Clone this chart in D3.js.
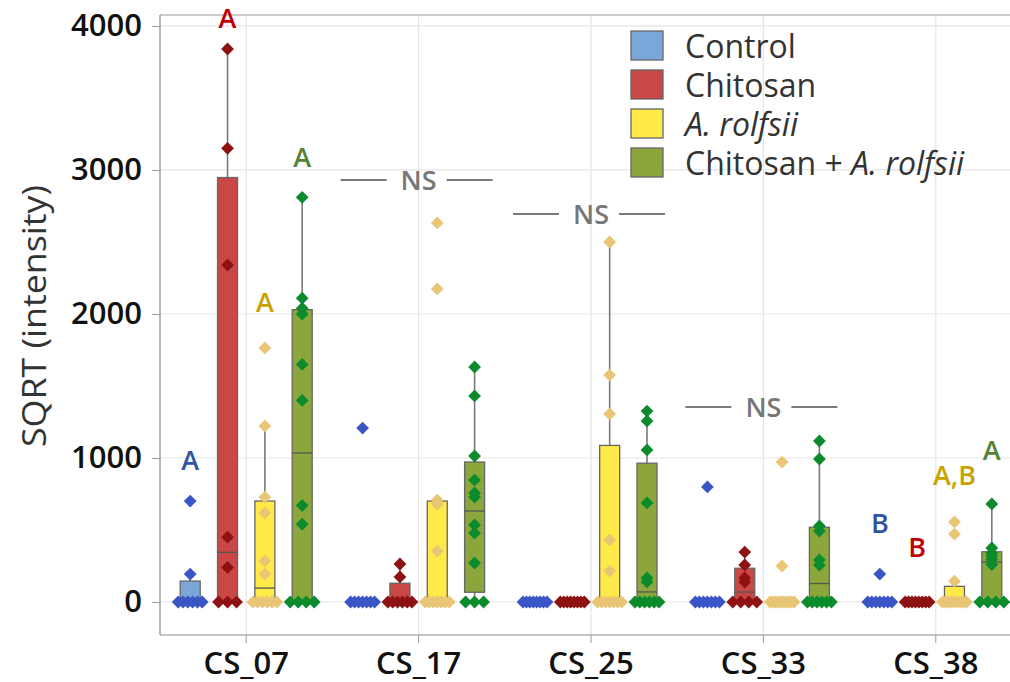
<!DOCTYPE html>
<html>
<head>
<meta charset="utf-8">
<script src="https://cdn.jsdelivr.net/npm/d3@7/dist/d3.min.js"></script>
<style>
  html, body { margin: 0; padding: 0; background: #fff; }
  svg { display: block; font-family: "Open Sans", "Noto Sans", sans-serif; }
</style>
</head>
<body>
<svg id="chart" width="1010" height="682"></svg>
<script>
// Compound intensity (square-root scale) per treatment, one row per compound
const categories = ["CS_07", "CS_17", "CS_25", "CS_33", "CS_38"];
const treatments = ["Control", "Chitosan", "A. rolfsii", "Chitosan + A. rolfsii"];

const controlValues = [
  [0, 0, 0, 0, 0, 0, 194, 701],
  [0, 0, 0, 0, 0, 0, 0, 1208],
  [0, 0, 0, 0, 0, 0, 0, 0],
  [0, 0, 0, 0, 0, 0, 0, 799],
  [0, 0, 0, 0, 0, 0, 0, 194]
];
const chitosanValues = [
  [0, 0, 0, 240, 450, 2340, 3150, 3840],
  [0, 0, 0, 0, 0, 0, 174, 264],
  [0, 0, 0, 0, 0, 0, 0, 0],
  [0, 0, 0, 0, 139, 167, 257, 347],
  [0, 0, 0, 0, 0, 0, 0, 0]
];
const rolfsiiValues = [
  [0, 0, 0, 0, 0, 0, 194, 285, 618, 729, 1222, 1764],
  [0, 0, 0, 0, 0, 0, 0, 354, 680, 708, 2174, 2632],
  [0, 0, 0, 0, 0, 0, 0, 215, 431, 1306, 1576, 2500],
  [0, 0, 0, 0, 0, 0, 0, 0, 0, 0, 250, 972],
  [0, 0, 0, 0, 0, 0, 0, 0, 0, 145, 472, 556]
];
const comboValues = [
  [0, 0, 0, 0, 540, 670, 1400, 1650, 2000, 2040, 2110, 2810],
  [0, 0, 0, 271, 479, 535, 729, 757, 847, 1014, 1431, 1632],
  [0, 0, 0, 0, 0, 0, 140, 167, 688, 1056, 1257, 1326],
  [0, 0, 0, 0, 0, 0, 257, 292, 493, 528, 993, 1118],
  [0, 0, 0, 0, 260, 296, 320, 340, 375, 681]
];

const yTicks = [0, 1000, 2000, 3000, 4000];

// Letter groupings (Tukey) per compound and treatment, and the level they sit at
const letterCategories = ["CS_07", "CS_38"];
const letterTexts = [["A", "A", "A", "A"], ["B", "B", "A,B", "A"]];
const letterLevels = [[917, 3986, 2014, 3021], [479, 312, 812, 986]];

// Non-significant compounds and the level of their "NS" marker
const nsCategories = ["CS_17", "CS_25", "CS_33"];
const nsLevels = [2931, 2694, 1354];

const boxColors = ["#7ba6da", "#c94846", "#ffea47", "#8ba63b"];
const pointColors = ["#3a55c6", "#8e1212", "#e9c576", "#0b8b2b"];
const letterColors = ["#2f55a2", "#c00000", "#c9a100", "#548235"];

const seriesValues = [controlValues, chitosanValues, rolfsiiValues, comboValues];

// ---- layout ----
const svg = d3.select("#chart");
const W = 1010, H = 682;
const plot = { left: 160, top: 15, right: 1022, bottom: 635 };

const x = d3.scaleBand().domain(categories).range([plot.left, plot.right]).padding(0);
const xs = d3.scalePoint().domain(treatments).range([-56, 56]);
const y = d3.scaleLinear().domain([-229, 4076]).range([plot.bottom, plot.top]);
const cx = c => x(c) + x.bandwidth() / 2;

svg.append("defs").append("clipPath").attr("id", "plotClip")
  .append("rect").attr("x", plot.left).attr("y", plot.top - 20)
  .attr("width", W - plot.left).attr("height", plot.bottom - plot.top + 20);

// grid
const grid = svg.append("g").attr("clip-path", "url(#plotClip)");
grid.selectAll("line.h").data(yTicks).join("line")
  .attr("x1", plot.left).attr("x2", W)
  .attr("y1", d => y(d)).attr("y2", d => y(d))
  .attr("stroke", "#e5e5e5").attr("stroke-width", 1.2);
grid.selectAll("line.v").data(categories).join("line")
  .attr("x1", d => cx(d)).attr("x2", d => cx(d))
  .attr("y1", plot.top).attr("y2", plot.bottom)
  .attr("stroke", "#e5e5e5").attr("stroke-width", 1.2);

// frame
svg.append("line").attr("x1", plot.left).attr("x2", W).attr("y1", plot.top).attr("y2", plot.top)
  .attr("stroke", "#9a9a9a").attr("stroke-width", 1.2);
svg.append("line").attr("x1", plot.left).attr("x2", W).attr("y1", plot.bottom).attr("y2", plot.bottom)
  .attr("stroke", "#8a8a8a").attr("stroke-width", 1.2);

// axes
const yAxis = svg.append("g").attr("transform", `translate(${plot.left},0)`)
  .call(d3.axisLeft(y).tickValues(yTicks).tickSize(8).tickPadding(10).tickFormat(d3.format("d")));
yAxis.select(".domain").attr("d", `M0,${plot.top}V${plot.bottom}`).attr("stroke", "#8a8a8a").attr("stroke-width", 1.2);
yAxis.selectAll(".tick line").attr("stroke", "#9a9a9a");
yAxis.selectAll(".tick text").attr("font-size", 31).attr("font-weight", 600).attr("fill", "#111")
  .attr("font-family", "'Open Sans', sans-serif");

const xAxis = svg.append("g").attr("transform", `translate(0,${plot.bottom})`)
  .call(d3.axisBottom(x).tickSize(8).tickPadding(9));
xAxis.select(".domain").remove();
xAxis.selectAll(".tick line").attr("stroke", "#9a9a9a");
xAxis.selectAll(".tick text").attr("font-size", 31).attr("font-weight", 600).attr("fill", "#111")
  .attr("font-family", "'Open Sans', sans-serif");

svg.append("text")
  .attr("transform", "translate(46,316) rotate(-90)")
  .attr("text-anchor", "middle")
  .attr("font-size", 33).attr("fill", "#333")
  .attr("textLength", 262).attr("lengthAdjust", "spacingAndGlyphs")
  .text("SQRT (intensity)");

// quartiles with the (n+1)p rule
function quartile(sorted, p) {
  const n = sorted.length, pos = p * (n + 1);
  if (pos <= 1) return sorted[0];
  if (pos >= n) return sorted[n - 1];
  const i = Math.floor(pos), f = pos - i;
  return sorted[i - 1] + f * (sorted[i] - sorted[i - 1]);
}

const groups = [];
categories.forEach((cat, ci) => {
  treatments.forEach((tr, ti) => {
    const vals = seriesValues[ti][ci].slice().sort((a, b) => a - b);
    const q1 = quartile(vals, 0.25), med = quartile(vals, 0.5), q3 = quartile(vals, 0.75);
    const iqr = q3 - q1;
    const hi = d3.max(vals.filter(v => v <= q3 + 1.5 * iqr));
    const lo = d3.min(vals.filter(v => v >= q1 - 1.5 * iqr));
    groups.push({ cat, tr, ti, vals, q1, med, q3, hi, lo, xc: cx(cat) + xs(tr) });
  });
});

const boxW = 20;
const gBoxes = svg.append("g").attr("clip-path", "url(#plotClip)");

// whiskers
gBoxes.selectAll("line.whiskHi").data(groups.filter(g => g.hi > g.q3)).join("line")
  .attr("x1", d => d.xc).attr("x2", d => d.xc)
  .attr("y1", d => y(d.q3)).attr("y2", d => y(d.hi))
  .attr("stroke", "#7a7a7a").attr("stroke-width", 1.6);
gBoxes.selectAll("line.whiskLo").data(groups.filter(g => g.lo < g.q1)).join("line")
  .attr("x1", d => d.xc).attr("x2", d => d.xc)
  .attr("y1", d => y(d.q1)).attr("y2", d => y(d.lo))
  .attr("stroke", "#7a7a7a").attr("stroke-width", 1.6);

// boxes
const withBox = groups.filter(g => g.q3 > g.q1);
gBoxes.selectAll("rect.box").data(withBox).join("rect")
  .attr("x", d => d.xc - boxW / 2).attr("width", boxW)
  .attr("y", d => y(d.q3)).attr("height", d => y(d.q1) - y(d.q3))
  .attr("fill", d => boxColors[d.ti]).attr("stroke", "#666").attr("stroke-width", 1.3);
gBoxes.selectAll("line.med").data(withBox.filter(g => g.med > g.q1 && g.med < g.q3)).join("line")
  .attr("x1", d => d.xc - boxW / 2).attr("x2", d => d.xc + boxW / 2)
  .attr("y1", d => y(d.med)).attr("y2", d => y(d.med))
  .attr("stroke", "#555").attr("stroke-width", 1.3);

// individual observations: tied values are spread side by side
const pts = [];
groups.forEach(g => {
  const byVal = d3.group(g.vals, v => v);
  byVal.forEach((arr, v) => {
    const k = arr.length;
    const step = k > 1 ? Math.min(9, 24 / (k - 1)) : 0;
    arr.forEach((_, i) => {
      pts.push({ ti: g.ti, v, px: g.xc + (i - (k - 1) / 2) * step });
    });
  });
});
const diamond = d3.symbol(d3.symbolSquare, 82)();
gBoxes.selectAll("path.pt").data(pts).join("path")
  .attr("d", diamond)
  .attr("transform", d => `translate(${d.px},${y(d.v)}) rotate(45)`)
  .attr("fill", d => pointColors[d.ti]);

// letters
letterCategories.forEach((cat, li) => {
  treatments.forEach((tr, ti) => {
    svg.append("text")
      .attr("x", cx(cat) + xs(tr)).attr("y", y(letterLevels[li][ti]))
      .attr("text-anchor", "middle")
      .attr("font-size", 27).attr("font-weight", 600)
      .attr("fill", letterColors[ti])
      .text(letterTexts[li][ti]);
  });
});

// NS markers
nsCategories.forEach((cat, i) => {
  const c = cx(cat), yy = y(nsLevels[i]);
  const g = svg.append("g");
  g.append("line").attr("x1", c - 78).attr("x2", c - 32).attr("y1", yy).attr("y2", yy)
    .attr("stroke", "#7a7a7a").attr("stroke-width", 2);
  g.append("line").attr("x1", c + 28).attr("x2", c + 74).attr("y1", yy).attr("y2", yy)
    .attr("stroke", "#7a7a7a").attr("stroke-width", 2);
  g.append("text").attr("x", c).attr("y", yy).attr("dy", "0.36em")
    .attr("text-anchor", "middle").attr("font-size", 27).attr("font-weight", 600)
    .attr("fill", "#777").text("NS");
});

// legend
const legend = svg.append("g").attr("transform", "translate(631,31)");
treatments.forEach((tr, i) => {
  const row = legend.append("g").attr("transform", `translate(0,${i * 39})`);
  row.append("rect").attr("width", 32).attr("height", 29)
    .attr("fill", boxColors[i]).attr("stroke", "#666").attr("stroke-width", 1.3);
  const t = row.append("text").attr("x", 54).attr("y", 15).attr("dy", "0.36em")
    .attr("font-size", 32).attr("fill", "#333");
  const parts = tr.split("A. rolfsii");
  if (parts.length > 1) {
    if (parts[0]) t.append("tspan").text(parts[0]);
    t.append("tspan").attr("font-style", "italic").text("A. rolfsii");
  } else {
    t.text(tr);
  }
});
</script>
</body>
</html>
